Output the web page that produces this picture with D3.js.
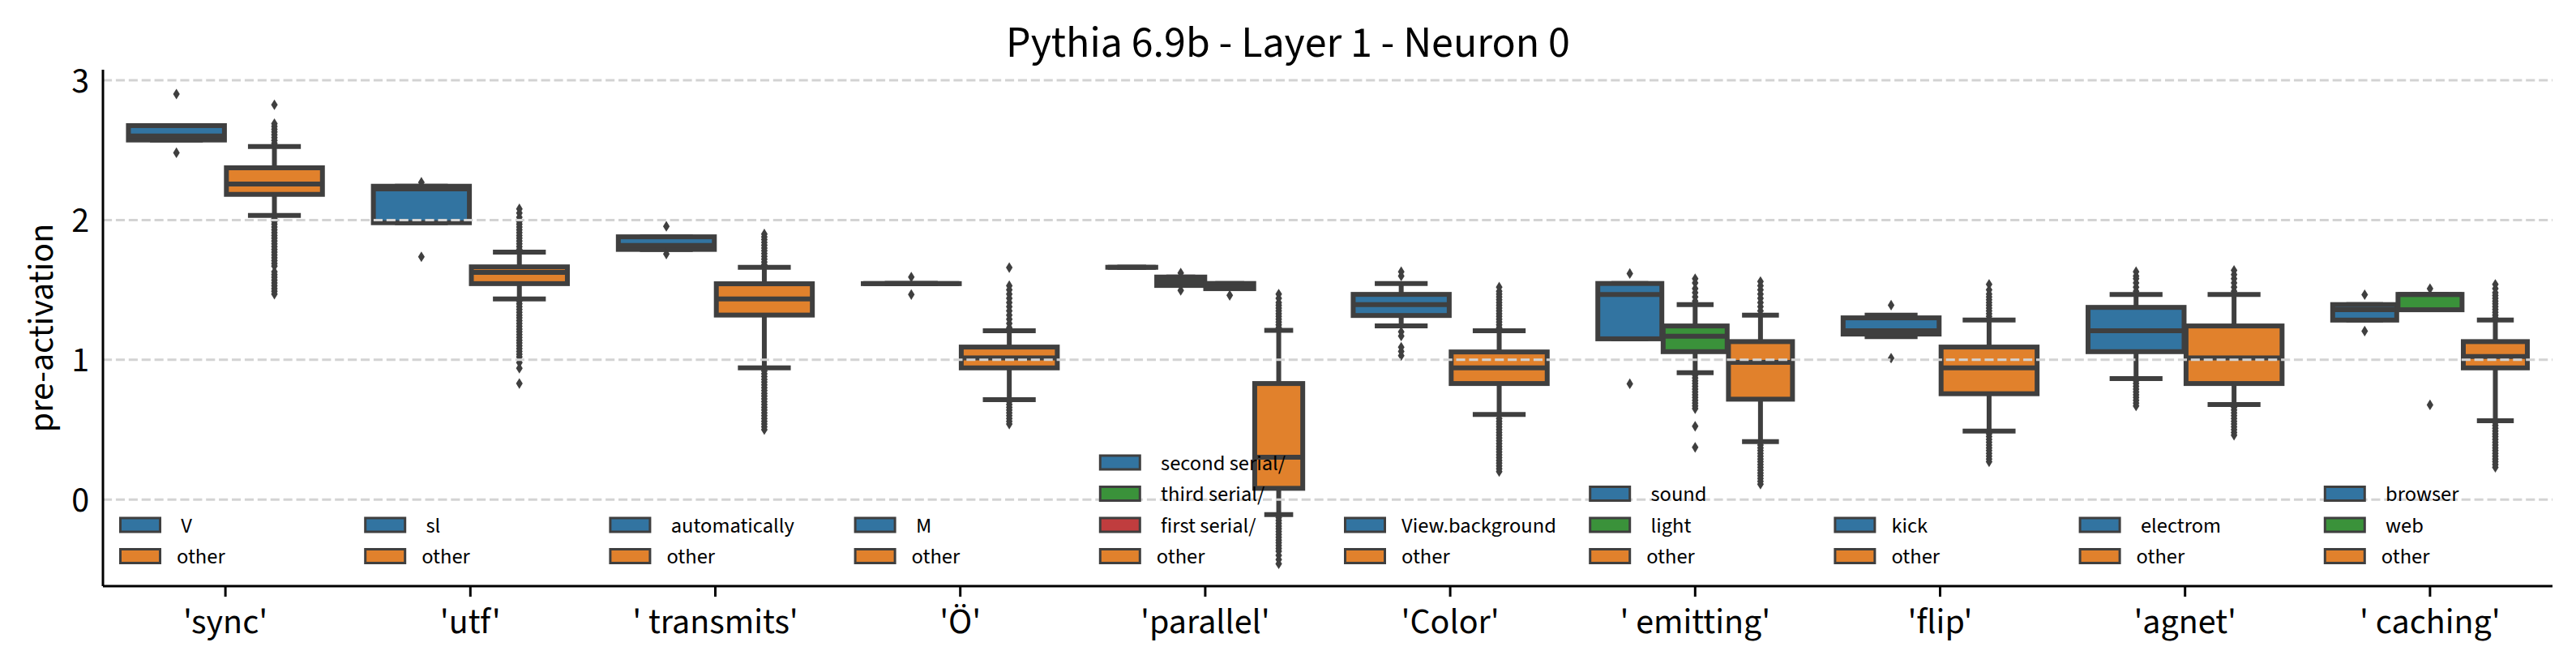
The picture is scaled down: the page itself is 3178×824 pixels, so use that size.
<!DOCTYPE html>
<html>
<head>
<meta charset="utf-8">
<script src="https://cdn.jsdelivr.net/npm/d3@7"></script>
<style>
  html, body { margin: 0; padding: 0; background: #fff; }
  svg { display: block; }
  text { font-family: "Source Sans Pro", "Source Sans 3", Lato, "Noto Sans", sans-serif; }
</style>
</head>
<body>
<svg id="chart" width="3178" height="824"></svg>
<script>
// ---------------- data ----------------
const title = "Pythia 6.9b - Layer 1 - Neuron 0";
const yLabel = "pre-activation";
const categories = ["'sync'", "'utf'", "' transmits'", "'Ö'", "'parallel'", "'Color'", "' emitting'", "'flip'", "'agnet'", "' caching'"];
const yTicks = [0, 1, 2, 3];

const hueLabels = [
  [" V", "other"],
  [" sl", "other"],
  [" automatically", "other"],
  [" M", "other"],
  [" second serial/", " third serial/", " first serial/", "other"],
  ["View.background", "other"],
  [" sound", " light", "other"],
  ["kick", "other"],
  [" electrom", "other"],
  [" browser", " web", "other"]
];
const hueKeys = [
  ["blue", "orange"], ["blue", "orange"], ["blue", "orange"], ["blue", "orange"],
  ["blue", "green", "red", "orange"],
  ["blue", "orange"],
  ["blue", "green", "orange"],
  ["blue", "orange"], ["blue", "orange"],
  ["blue", "green", "orange"]
];

// box statistics per category, per hue
const whisLo = [[2.573, 2.033], [1.981, 1.435], [1.79, 0.942], [1.545, 0.714], [1.662, 1.532, 1.509, -0.108], [1.242, 0.608], [1.15, 0.908, 0.414], [1.165, 0.49], [0.865, 0.679], [1.284, 1.358, 0.563]];
const q1 = [[2.573, 2.184], [1.981, 1.545], [1.79, 1.32], [1.545, 0.942], [1.662, 1.532, 1.509, 0.08], [1.317, 0.83], [1.15, 1.058, 0.718], [1.184, 0.757], [1.058, 0.83], [1.284, 1.358, 0.942]];
const med = [[2.602, 2.258], [2.223, 1.625], [1.818, 1.436], [1.545, 1.014], [1.662, 1.56, 1.525, 0.303], [1.395, 0.942], [1.468, 1.169, 0.981], [1.207, 0.942], [1.207, 1.014], [1.358, 1.468, 1.024]];
const q3 = [[2.676, 2.374], [2.242, 1.665], [1.88, 1.544], [1.545, 1.091], [1.662, 1.592, 1.546, 0.83], [1.468, 1.056], [1.546, 1.242, 1.13], [1.30, 1.091], [1.375, 1.242], [1.395, 1.468, 1.13]];
const whisHi = [[2.676, 2.526], [2.242, 1.77], [1.88, 1.661], [1.545, 1.207], [1.662, 1.592, 1.546, 1.211], [1.546, 1.207], [1.546, 1.395, 1.319], [1.319, 1.285], [1.468, 1.468], [1.395, 1.468, 1.285]];
const outliers = [
  [[2.902, 2.482],
   [2.55, 2.57, 2.59, 2.61, 2.63, 2.65, 2.67, 2.69, 2.825, 2.01, 1.99, 1.97, 1.95, 1.93, 1.91, 1.89, 1.87, 1.85, 1.83, 1.81, 1.79, 1.77, 1.75, 1.73, 1.71, 1.69, 1.67, 1.63, 1.61, 1.59, 1.57, 1.55, 1.53, 1.51, 1.49, 1.47]],
  [[2.27, 1.737],
   [1.79, 1.81, 1.83, 1.85, 1.87, 1.89, 1.91, 1.93, 1.95, 1.97, 1.99, 2.02, 2.05, 2.08, 1.42, 1.40, 1.38, 1.36, 1.34, 1.32, 1.30, 1.28, 1.26, 1.24, 1.22, 1.20, 1.18, 1.16, 1.14, 1.12, 1.10, 1.08, 1.06, 1.04, 1.02, 0.98, 0.94, 0.83]],
  [[1.955, 1.757],
   [1.68, 1.70, 1.72, 1.74, 1.76, 1.78, 1.80, 1.82, 1.84, 1.86, 1.88, 1.90, 0.92, 0.90, 0.88, 0.86, 0.84, 0.82, 0.80, 0.78, 0.76, 0.74, 0.72, 0.70, 0.68, 0.66, 0.64, 0.62, 0.60, 0.58, 0.56, 0.54, 0.52, 0.50]],
  [[1.592, 1.467],
   [1.66, 1.53, 1.50, 1.47, 1.44, 1.41, 1.38, 1.35, 1.32, 1.29, 1.26, 1.23, 0.70, 0.68, 0.66, 0.64, 0.62, 0.60, 0.58, 0.56, 0.54]],
  [[], [1.621, 1.497], [1.461],
   [1.23, 1.25, 1.27, 1.29, 1.31, 1.33, 1.35, 1.37, 1.39, 1.41, 1.44, 1.47, -0.13, -0.15, -0.17, -0.19, -0.21, -0.23, -0.25, -0.27, -0.29, -0.31, -0.33, -0.35, -0.37, -0.40, -0.43, -0.46]],
  [[1.60, 1.63, 1.20, 1.17, 1.09, 1.06, 1.03],
   [1.23, 1.25, 1.27, 1.29, 1.31, 1.33, 1.35, 1.37, 1.39, 1.41, 1.43, 1.45, 1.47, 1.49, 1.52, 0.58, 0.56, 0.54, 0.52, 0.50, 0.48, 0.46, 0.44, 0.42, 0.40, 0.38, 0.36, 0.34, 0.32, 0.30, 0.28, 0.26, 0.24, 0.22, 0.20]],
  [[1.617, 0.828],
   [1.42, 1.45, 1.48, 1.51, 1.55, 1.58, 0.89, 0.87, 0.85, 0.83, 0.81, 0.79, 0.77, 0.75, 0.73, 0.71, 0.69, 0.67, 0.65, 0.524, 0.373],
   [1.35, 1.38, 1.41, 1.44, 1.47, 1.50, 1.53, 1.56, 0.39, 0.37, 0.35, 0.33, 0.31, 0.29, 0.27, 0.25, 0.23, 0.21, 0.19, 0.17, 0.15, 0.13, 0.11]],
  [[1.391, 1.012],
   [1.31, 1.33, 1.35, 1.37, 1.39, 1.41, 1.43, 1.45, 1.47, 1.50, 1.54, 0.47, 0.45, 0.43, 0.41, 0.39, 0.37, 0.35, 0.33, 0.31, 0.29, 0.27]],
  [[1.49, 1.52, 1.55, 1.58, 1.60, 1.63, 0.85, 0.83, 0.81, 0.79, 0.77, 0.75, 0.73, 0.71, 0.69, 0.67],
   [1.49, 1.52, 1.55, 1.58, 1.61, 1.64, 0.66, 0.64, 0.62, 0.60, 0.58, 0.56, 0.54, 0.52, 0.50, 0.48, 0.46]],
  [[1.466, 1.205],
   [1.509, 0.677],
   [1.30, 1.32, 1.34, 1.36, 1.38, 1.40, 1.42, 1.44, 1.46, 1.48, 1.51, 1.54, 0.55, 0.53, 0.51, 0.49, 0.47, 0.45, 0.43, 0.41, 0.39, 0.37, 0.35, 0.33, 0.31, 0.29, 0.27, 0.25, 0.23]]
];

// ---------------- styles ----------------
const palette = { blue: "#3274a1", orange: "#e1812c", green: "#3a923a", red: "#c03d3e" };
const edge = "#3f3f3f";
const lw = 6;

const svg = d3.select("#chart");
const W = 3178, H = 824;
const m = { left: 127, right: 3149, top: 86, bottom: 723 };

svg.append("rect").attr("width", W).attr("height", H).attr("fill", "#fff");

const x = d3.scaleBand().domain(categories).range([m.left, m.right]).padding(0);
const y = d3.scaleLinear().domain([-0.62, 3.076]).range([m.bottom, m.top]);

const plot = svg.append("g");

// boxes
categories.forEach((cat, ci) => {
  const n = hueLabels[ci].length;
  const bw = x.bandwidth();
  const groupW = 0.8 * bw;
  const each = groupW / n;
  const boxW = each * 0.98;
  const center = x(cat) + bw / 2;
  for (let k = 0; k < n; k++) {
    const cx = center - groupW / 2 + each * (k + 0.5);
    const g = plot.append("g");
    const col = palette[hueKeys[ci][k]];
    // whiskers
    g.append("line").attr("x1", cx).attr("x2", cx).attr("y1", y(q3[ci][k])).attr("y2", y(whisHi[ci][k]))
      .attr("stroke", edge).attr("stroke-width", lw);
    g.append("line").attr("x1", cx).attr("x2", cx).attr("y1", y(q1[ci][k])).attr("y2", y(whisLo[ci][k]))
      .attr("stroke", edge).attr("stroke-width", lw);
    // caps
    [whisHi[ci][k], whisLo[ci][k]].forEach(v => {
      g.append("line").attr("x1", cx - boxW / 4).attr("x2", cx + boxW / 4).attr("y1", y(v)).attr("y2", y(v))
        .attr("stroke", edge).attr("stroke-width", lw).attr("stroke-linecap", "square");
    });
    // box
    g.append("rect").attr("x", cx - boxW / 2).attr("width", boxW)
      .attr("y", y(q3[ci][k])).attr("height", Math.max(0.01, y(q1[ci][k]) - y(q3[ci][k])))
      .attr("fill", col).attr("stroke", edge).attr("stroke-width", lw);
    // median
    g.append("line").attr("x1", cx - boxW / 2).attr("x2", cx + boxW / 2)
      .attr("y1", y(med[ci][k])).attr("y2", y(med[ci][k]))
      .attr("stroke", edge).attr("stroke-width", lw);
    // fliers (thin diamonds)
    outliers[ci][k].forEach(v => {
      const yy = y(v);
      g.append("path").attr("d", `M${cx},${yy - 6.6}L${cx + 4.1},${yy}L${cx},${yy + 6.6}L${cx - 4.1},${yy}Z`)
        .attr("fill", edge);
    });
  }
});

// grid (drawn above boxes)
svg.append("g").selectAll("line").data(yTicks).join("line")
  .attr("x1", m.left).attr("x2", m.right)
  .attr("y1", d => y(d)).attr("y2", d => y(d))
  .attr("stroke", "#d3d3d3").attr("stroke-width", 3).attr("stroke-dasharray", "11.1 4.8");

// axes
const yAxis = svg.append("g").attr("transform", `translate(${m.left},0)`)
  .call(d3.axisLeft(y).tickValues(yTicks).tickSize(0).tickPadding(17).tickFormat(d3.format("d")));
yAxis.select(".domain").attr("stroke", "#000").attr("stroke-width", 3).attr("d", `M0,${m.top}V${m.bottom}`);
yAxis.selectAll("text").attr("font-size", 44).attr("fill", "#000");

const xAxis = svg.append("g").attr("transform", `translate(0,${m.bottom})`)
  .call(d3.axisBottom(x).tickSize(13).tickPadding(14));
xAxis.select(".domain").attr("stroke", "#000").attr("stroke-width", 3).attr("d", `M${m.left},0H${m.right}`);
xAxis.selectAll(".tick line").attr("stroke", "#000").attr("stroke-width", 3);
xAxis.selectAll("text").attr("font-size", 44).attr("fill", "#000").style("white-space", "pre");

// y label
svg.append("text").attr("transform", `translate(65,${(m.top + m.bottom) / 2}) rotate(-90)`)
  .attr("text-anchor", "middle").attr("font-size", 44).attr("fill", "#000").text(yLabel);

// title
svg.append("text").attr("x", W / 2).attr("y", 70).attr("text-anchor", "middle")
  .attr("font-size", 54).attr("fill", "#000").text(title);

// legends
categories.forEach((cat, ci) => {
  const n = hueLabels[ci].length;
  const x0 = x(cat) + 20;
  const lg = svg.append("g");
  hueLabels[ci].forEach((lab, j) => {
    const cy = 686 - (n - 1 - j) * 38.5;
    lg.append("rect").attr("x", x0 + 1.5).attr("y", cy - 8.5).attr("width", 49).attr("height", 17)
      .attr("fill", palette[hueKeys[ci][j]]).attr("stroke", edge).attr("stroke-width", 3);
    lg.append("text").attr("x", x0 + 71).attr("y", cy + 9).attr("font-size", 26.5).attr("fill", "#000")
      .attr("xml:space", "preserve").style("white-space", "pre").text(lab);
  });
});
</script>
</body>
</html>
